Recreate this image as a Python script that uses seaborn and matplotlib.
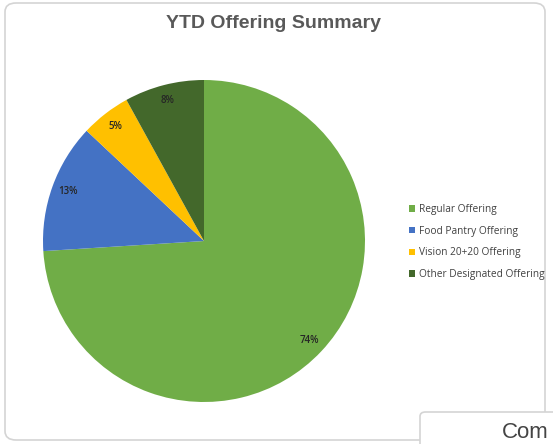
import matplotlib
matplotlib.use('Agg')
import matplotlib.pyplot as plt
import seaborn as sns
from matplotlib.patches import FancyBboxPatch

categories = ['Regular Offering', 'Food Pantry Offering', 'Vision 20+20 Offering', 'Other Designated Offering']
shares = [74, 13, 5, 8]
colors = ['#70AD47', '#4472C4', '#FFC000', '#43682B']

sns.set_theme(style='white')
plt.rcParams['font.family'] = ['Open Sans', 'DejaVu Sans']

W, H = 553, 444
fig = plt.figure(figsize=(W / 100, H / 100), dpi=100)
fig.patch.set_facecolor('white')

# card outlines
fig.patches.append(FancyBboxPatch((5 / W, 1 - 440 / H), 540 / W, 437 / H,
                                  boxstyle='round,pad=0,rounding_size=0.02',
                                  transform=fig.transFigure, facecolor='none',
                                  edgecolor='#d4d4d4', lw=1.2, zorder=-1))
fig.patches.append(FancyBboxPatch((420 / W, 1 - 470 / H), 160 / W, 58 / H,
                                  boxstyle='round,pad=0,rounding_size=0.01',
                                  transform=fig.transFigure, facecolor='white',
                                  edgecolor='#d4d4d4', lw=1.2, zorder=3))
fig.text(502 / W, 1 - 443 / H, 'Com', fontsize=16, color='#444444',
         family='Liberation Sans', va='bottom', zorder=4)

fig.text(273 / W, 1 - 24 / H, 'YTD Offering Summary', fontsize=14, fontweight='bold',
         color='#595959', family='Liberation Sans', ha='center', va='center')

cx, cy, r = 204, 241, 161
ax = fig.add_axes([(cx - r) / W, 1 - (cy + r) / H, 2 * r / W, 2 * r / H])
ax.set_facecolor('none')
wedges, texts, autotexts = ax.pie(shares, colors=colors, startangle=90, counterclock=False,
                                  autopct='%d%%', pctdistance=0.9, radius=1,
                                  wedgeprops=dict(linewidth=0),
                                  textprops=dict(fontsize=7, color='#262626', fontweight='semibold'))
ax.set_xlim(-1, 1)
ax.set_ylim(-1, 1)
ax.set_aspect('auto')
ax.axis('off')

leg = fig.legend(wedges, categories, loc='center left', bbox_to_anchor=(400 / W, 1 - 242 / H),
                 frameon=False, fontsize=7.3, handlelength=0.6, handleheight=0.6,
                 handletextpad=0.4, labelspacing=1.05, labelcolor='#404040')

fig.savefig('out.png', dpi=100)
